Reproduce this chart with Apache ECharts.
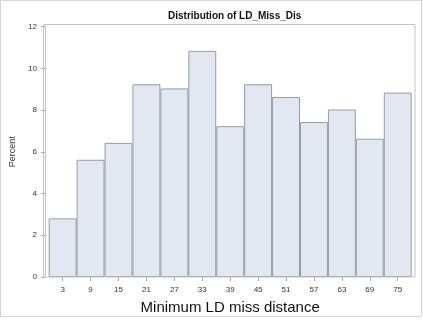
<!DOCTYPE html>
<html>
<head>
<meta charset="utf-8">
<script src="https://cdn.jsdelivr.net/npm/echarts@6/dist/echarts.min.js"></script>
<style>
  html, body { margin: 0; padding: 0; background: #fff; }
  #chart { width: 423px; height: 325px; }
</style>
</head>
<body>
<div id="chart"></div>
<script>
// Histogram bins (midpoints) and percent of observations in each bin
const binMidpoints = ['3', '9', '15', '21', '27', '33', '39', '45', '51', '57', '63', '69', '75'];
const percentValues = [2.81, 5.62, 6.43, 9.24, 9.04, 10.84, 7.23, 9.24, 8.63, 7.43, 8.03, 6.63, 8.84];
const yTicks = { min: 0, max: 12, step: 2 };

const chart = echarts.init(document.getElementById('chart'), null, { renderer: 'canvas' });

const tickFont = { fontFamily: 'Liberation Sans, Arial, sans-serif', fontSize: 8, color: '#333' };

chart.setOption({
  animation: false,
  backgroundColor: '#fff',
  title: {
    text: 'Distribution of LD_Miss_Dis',
    left: 163,
    top: 6,
    textStyle: { fontFamily: 'Liberation Sans, Arial, sans-serif', fontSize: 10, fontWeight: 'bold', color: '#111' }
  },
  graphic: [
    { // outer border of the graph
      type: 'rect', z: 0, silent: true,
      shape: { x: 0.5, y: 0.5, width: 421, height: 316 },
      style: { fill: null, stroke: '#d4d4d4', lineWidth: 1 }
    },
    { // wall frame around the plot area
      type: 'rect', z: 10, silent: true,
      shape: { x: 43.5, y: 24.5, width: 371.5, height: 252.5 },
      style: { fill: null, stroke: '#c4c4c4', lineWidth: 1 }
    }
  ],
  grid: { left: 46.7, right: 11.3, top: 26.7, bottom: 48, containLabel: false },
  xAxis: {
    type: 'category',
    data: binMidpoints,
    name: 'Minimum LD miss distance',
    nameLocation: 'middle',
    nameGap: 23,
    nameTextStyle: { fontFamily: 'Liberation Sans, Arial, sans-serif', fontSize: 15, color: '#111' },
    axisLine: { show: false },
    axisTick: { show: true, alignWithLabel: true, length: 4, lineStyle: { color: '#aaa' } },
    axisLabel: Object.assign({ margin: 9 }, tickFont),
    splitLine: { show: false }
  },
  yAxis: {
    type: 'value',
    min: yTicks.min,
    max: yTicks.max,
    interval: yTicks.step,
    offset: 3.7,
    name: 'Percent',
    nameLocation: 'middle',
    nameRotate: 90,
    nameGap: 28,
    nameTextStyle: { fontFamily: 'Liberation Sans, Arial, sans-serif', fontSize: 9, color: '#333' },
    axisLine: { show: true, lineStyle: { color: '#c4c4c4' } },
    axisTick: { show: true, length: 4, lineStyle: { color: '#aaa' } },
    axisLabel: Object.assign({ margin: 8 }, tickFont),
    splitLine: { show: false }
  },
  series: [{
    type: 'bar',
    data: percentValues,
    barCategoryGap: '0%',
    itemStyle: { color: '#e3e7f1', borderColor: '#979ba3', borderWidth: 1 }
  }]
});
</script>
</body>
</html>
